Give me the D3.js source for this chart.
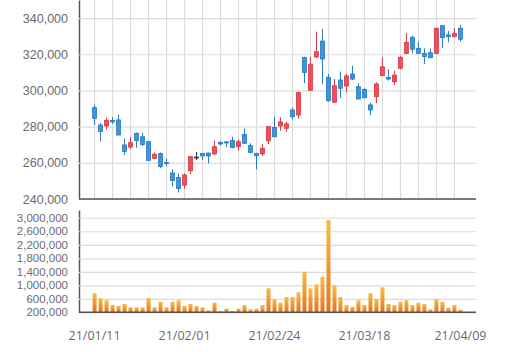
<!DOCTYPE html>
<html>
<head>
<meta charset="utf-8">
<script src="https://cdn.jsdelivr.net/npm/d3@7"></script>
<style>
  body { margin: 0; background: #fff; }
  svg { display: block; font-family: "Open Sans", sans-serif; }
  .axis text { fill: #6b6b6b; }
  .grid line { stroke: #dcdcdc; stroke-width: 1.2; }
  .grid .domain { display: none; }
</style>
</head>
<body>
<div id="chart"></div>
<script>
const dates = [
  "21/01/11","21/01/12","21/01/13","21/01/14","21/01/15","21/01/18","21/01/19","21/01/20","21/01/21","21/01/22",
  "21/01/25","21/01/26","21/01/27","21/01/28","21/01/29","21/02/01","21/02/02","21/02/03","21/02/04","21/02/05",
  "21/02/08","21/02/09","21/02/10","21/02/15","21/02/16","21/02/17","21/02/18","21/02/19","21/02/22","21/02/23",
  "21/02/24","21/02/25","21/02/26","21/03/02","21/03/03","21/03/04","21/03/05","21/03/08","21/03/09","21/03/10",
  "21/03/11","21/03/12","21/03/15","21/03/16","21/03/17","21/03/18","21/03/19","21/03/22","21/03/23","21/03/24",
  "21/03/25","21/03/26","21/03/29","21/03/30","21/03/31","21/04/01","21/04/02","21/04/05","21/04/06","21/04/07",
  "21/04/08","21/04/09"
];

const open = [
  290500,280900,280400,283400,283700,269900,268700,276200,274400,271700,
  262500,265200,260200,254400,251900,247700,255600,263200,265200,265400,
  264900,271200,271600,272300,268900,275700,269500,265200,264900,272200,
  279500,280400,279100,289200,286400,318200,300100,318500,327300,307300,
  293500,305800,302500,309100,302100,300600,292000,296600,308200,307200,
  304800,312300,320500,329400,323300,320500,320900,320500,335800,330700,
  329700,334400
];
const close = [
  284600,277300,283500,282600,275400,266300,271100,272300,270100,261400,
  264700,258000,259600,250200,245800,253300,263400,263200,263800,263800,
  268900,270400,271000,268500,271700,270800,265800,263900,268000,280000,
  274400,282600,281500,285500,298800,309900,314500,321400,317400,294300,
  302600,301200,308000,306300,295300,296000,289200,303600,313100,306300,
  308500,318300,326600,322800,320500,318700,318100,334400,329200,329700,
  331600,328300
];
const high = [
  292200,282000,284900,285300,286700,273400,274300,276800,276500,272100,
  265700,265700,262400,256300,254100,254100,263800,266000,265400,265600,
  272200,272100,271700,274400,272900,279000,270800,265600,270400,280400,
  285500,285200,282700,290500,299300,318700,318700,332500,334000,309100,
  306300,310400,309100,313700,304000,301200,293200,304500,318300,311700,
  310900,319100,331600,330300,327000,323300,323300,334700,336200,332900,
  334400,336200
];
const low = [
  280900,271800,278300,281500,275100,264300,267600,268200,269300,261000,
  262100,257000,258000,246900,243600,245800,253800,261600,261600,259700,
  264200,269600,268600,268000,266800,270400,265300,256400,263800,270400,
  274100,277800,277200,284100,284600,304100,299700,318100,303400,293800,
  293200,295700,298800,305800,295100,295700,286400,292900,308000,305400,
  303000,311700,320200,320500,320200,314600,317800,320500,323300,326600,
  329700,327000
];
const volume = [
  762000,614000,555000,416000,386000,446000,348000,348000,348000,623000,
  348000,514000,348000,514000,555000,386000,446000,386000,348000,259000,
  484000,238000,306000,238000,306000,416000,289000,306000,416000,910000,
  594000,484000,653000,653000,792000,1402000,910000,1029000,1254000,2932000,
  999000,653000,416000,366000,555000,416000,762000,594000,940000,446000,
  416000,514000,555000,416000,484000,446000,289000,594000,514000,336000,
  416000,277000
];

const priceTicks = [240000, 260000, 280000, 300000, 320000, 340000];
const volumeTicks = [200000, 600000, 1000000, 1400000, 1800000, 2200000, 2600000, 3000000];
const dateTicks = ["21/01/11", "21/02/01", "21/02/24", "21/03/18", "21/04/09"];

const width = 512;
const height = 352;
const left = 79;
const right = 476;

const data = dates.map((d, i) => ({
  date: d,
  open: open[i],
  high: high[i],
  low: low[i],
  close: close[i],
  volume: volume[i],
}));

const x = d3.scalePoint().domain(dates).range([left, right]).padding(2.6);

const y = d3.scaleLinear().domain([240000, 350000]).range([199, 0]);
const yv = d3.scaleLinear().domain([200000, 3230000]).range([312.3, 210]);

const svg = d3
  .select("#chart")
  .append("svg")
  .attr("width", width)
  .attr("height", height);

const defs = svg.append("defs");
const grad = defs
  .append("linearGradient")
  .attr("id", "volGrad")
  .attr("x1", 0)
  .attr("y1", 0)
  .attr("x2", 0)
  .attr("y2", 1);
grad.append("stop").attr("offset", "0%").attr("stop-color", "#f8bb45");
grad.append("stop").attr("offset", "100%").attr("stop-color", "#e8731d");

// price grid
const vGrid = dates.filter((d, i) => i % 3 === 0);
svg
  .append("g")
  .attr("class", "grid")
  .selectAll("line")
  .data(vGrid)
  .join("line")
  .attr("x1", (d) => x(d))
  .attr("x2", (d) => x(d))
  .attr("y1", y.range()[1])
  .attr("y2", y.range()[0]);

const yAxis = svg
  .append("g")
  .attr("class", "axis")
  .attr("transform", `translate(${left},0)`)
  .call(
    d3
      .axisLeft(y)
      .tickValues(priceTicks)
      .tickSizeInner(-(right - left))
      .tickSizeOuter(0)
      .tickPadding(11)
      .tickFormat(d3.format(","))
  );
yAxis.selectAll(".tick line").attr("stroke", "#dcdcdc").attr("stroke-width", 1.2);
yAxis.selectAll(".tick text").attr("font-size", 12.5);
yAxis.select(".domain").attr("stroke", "#555").attr("stroke-width", 1.5);

svg
  .append("line")
  .attr("x1", left)
  .attr("x2", right)
  .attr("y1", y(240000))
  .attr("y2", y(240000))
  .attr("stroke", "#555")
  .attr("stroke-width", 1.5);

// candles
const colorOf = (d) =>
  d.close > d.open ? "#ef4f5b" : d.close < d.open ? "#3a95dc" : "#444";
const strokeOf = (d) =>
  d.close > d.open ? "#d73844" : d.close < d.open ? "#2878c0" : "#333";

const candle = svg
  .append("g")
  .selectAll("g")
  .data(data)
  .join("g")
  .attr("transform", (d) => `translate(${x(d.date)},0)`);

candle
  .append("line")
  .attr("y1", (d) => y(d.high))
  .attr("y2", (d) => y(d.low))
  .attr("stroke", strokeOf)
  .attr("stroke-width", 1);

candle
  .append("rect")
  .attr("x", -2)
  .attr("width", 4)
  .attr("y", (d) => y(Math.max(d.open, d.close)))
  .attr("height", (d) => Math.max(1, Math.abs(y(d.open) - y(d.close))))
  .attr("fill", colorOf)
  .attr("stroke", strokeOf)
  .attr("stroke-width", 0.8);

// volume panel
const vAxis = svg
  .append("g")
  .attr("class", "axis")
  .attr("transform", `translate(${left},0)`)
  .call(
    d3
      .axisLeft(yv)
      .tickValues(volumeTicks)
      .tickSizeInner(-(right - left))
      .tickSizeOuter(0)
      .tickPadding(11)
      .tickFormat(d3.format(","))
  );
vAxis.selectAll(".tick line").attr("stroke", "#dcdcdc").attr("stroke-width", 1.2);
vAxis.selectAll(".tick text").attr("font-size", 11.5);
vAxis.select(".domain").attr("stroke", "#555").attr("stroke-width", 1.5);

svg
  .append("g")
  .selectAll("rect")
  .data(data)
  .join("rect")
  .attr("x", (d) => x(d.date) - 2)
  .attr("width", 4)
  .attr("y", (d) => yv(d.volume))
  .attr("height", (d) => yv.range()[0] - yv(d.volume))
  .attr("fill", "url(#volGrad)");

svg
  .append("line")
  .attr("x1", left)
  .attr("x2", right)
  .attr("y1", yv.range()[0])
  .attr("y2", yv.range()[0])
  .attr("stroke", "#555")
  .attr("stroke-width", 1.5);

// date labels
svg
  .append("g")
  .attr("class", "axis")
  .selectAll("text")
  .data(dateTicks)
  .join("text")
  .attr("x", (d) => x(d))
  .attr("y", 340)
  .attr("text-anchor", "middle")
  .attr("font-size", 12.5)
  .text((d) => d);
</script>
</body>
</html>
